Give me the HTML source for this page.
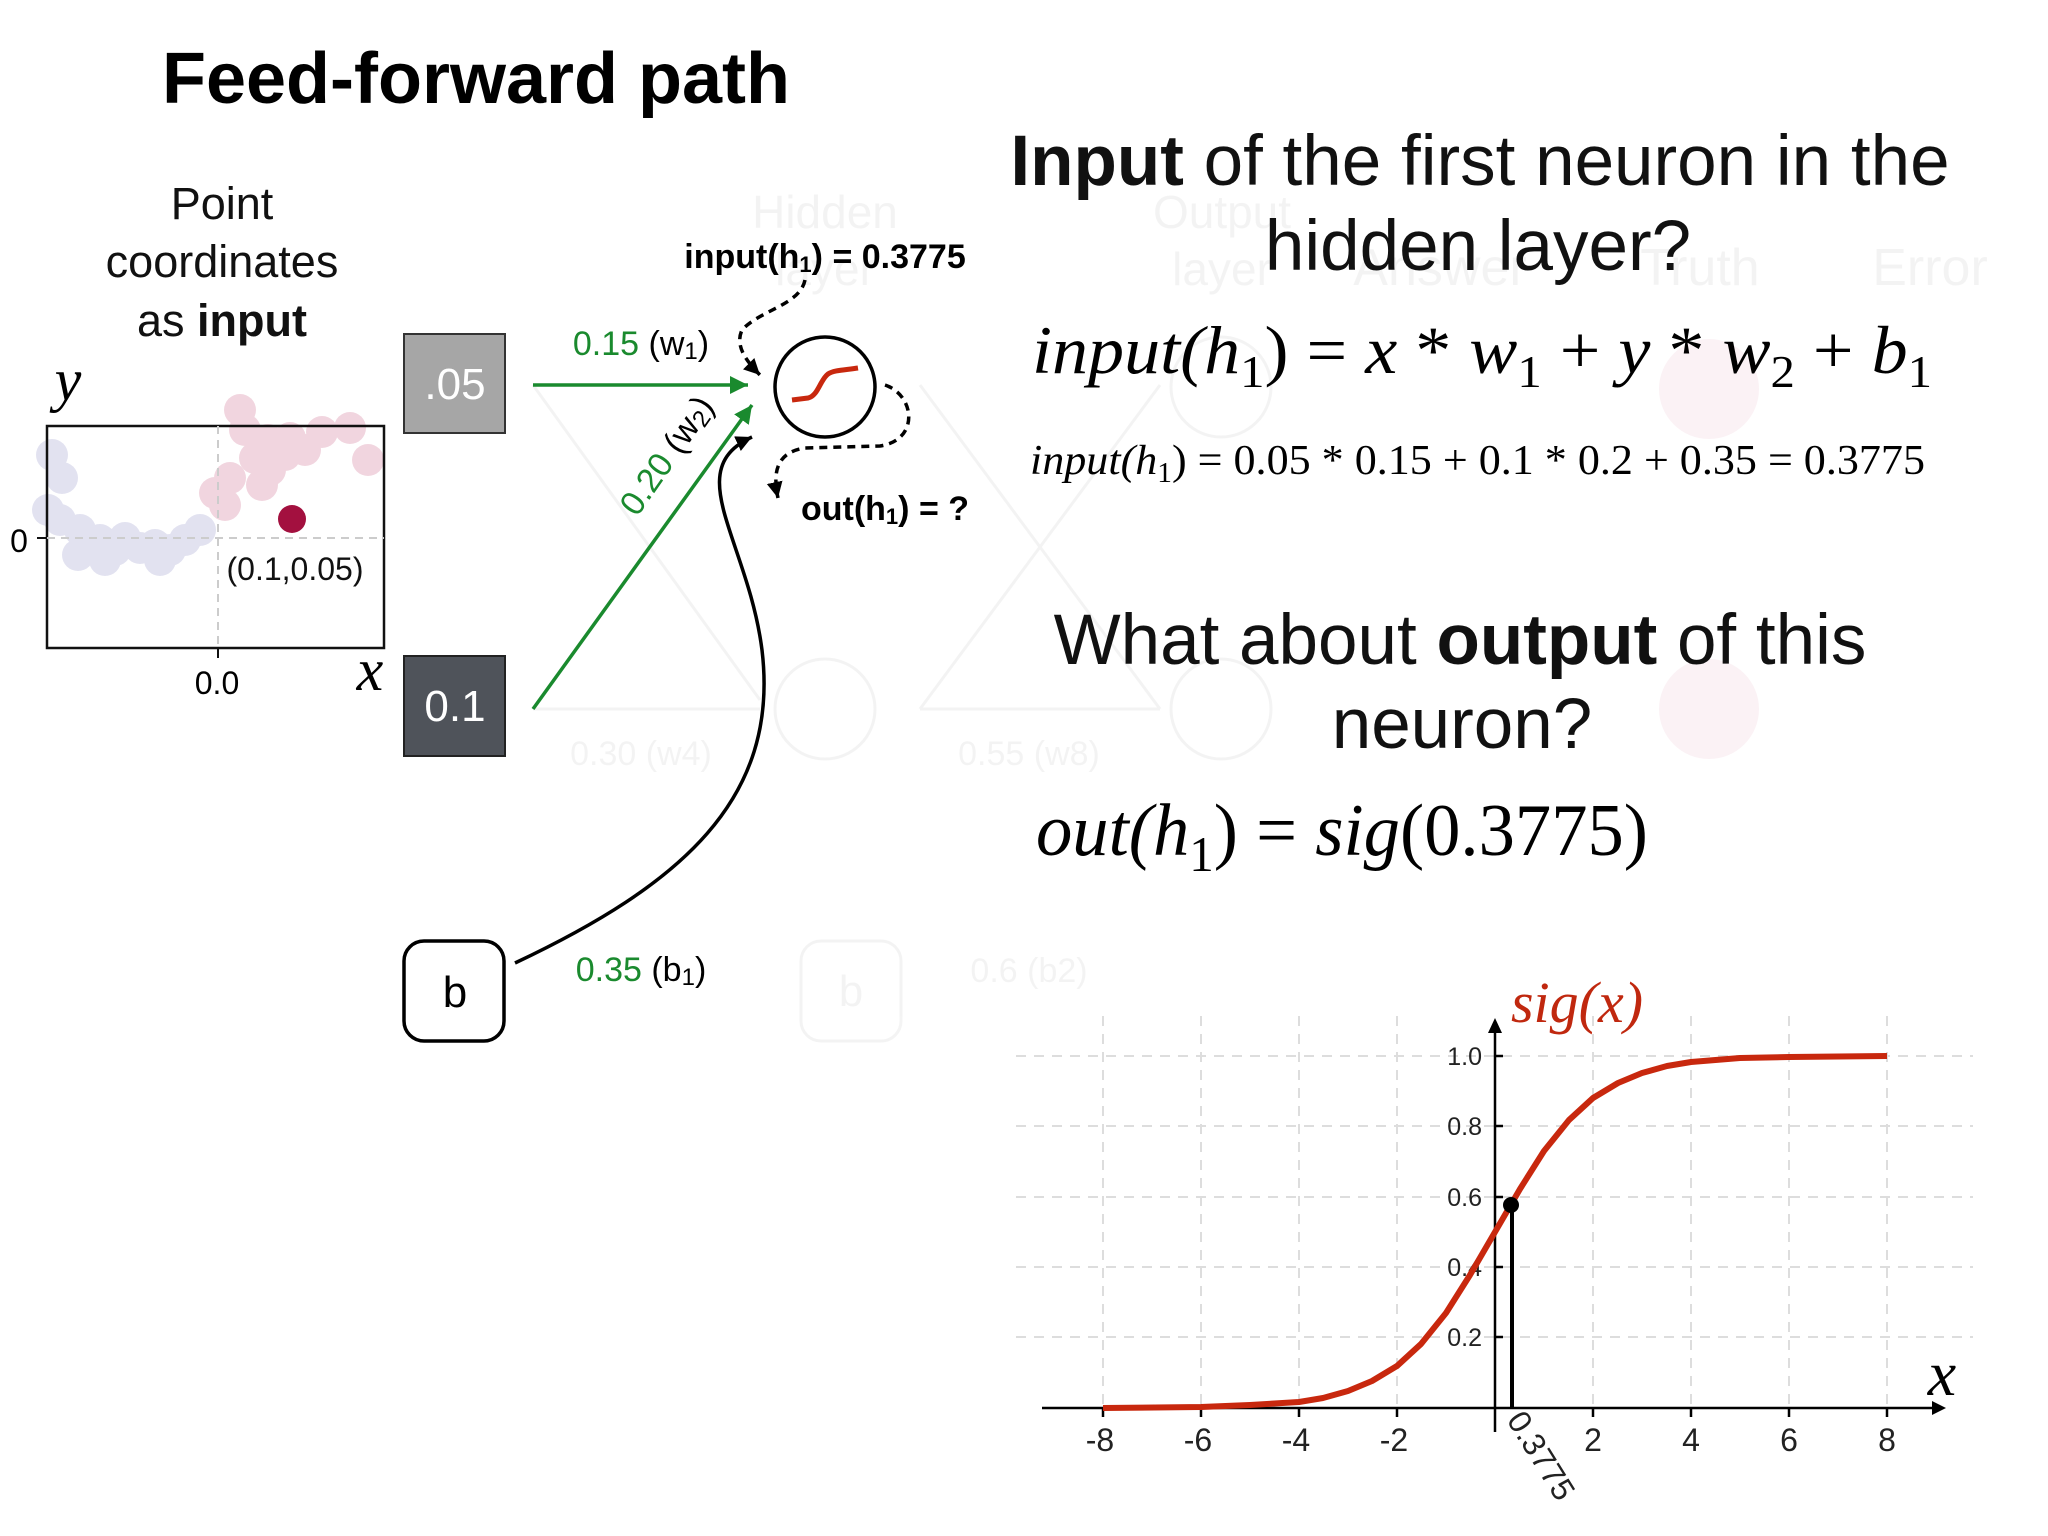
<!DOCTYPE html>
<html><head><meta charset="utf-8"><style>
html,body{margin:0;padding:0;background:#fff;width:2048px;height:1536px;overflow:hidden}
svg{display:block}
.s{font-family:"Liberation Sans",sans-serif}
.m{font-family:"Liberation Serif",serif;font-style:italic}
.n{font-family:"Liberation Serif",serif}
</style></head><body>
<svg width="2048" height="1536" viewBox="0 0 2048 1536" xmlns="http://www.w3.org/2000/svg">
<defs>
<marker id="ak" markerWidth="20" markerHeight="20" refX="16" refY="8" orient="auto" markerUnits="userSpaceOnUse"><path d="M0,0 L16,8 L0,16 z" fill="#000"/></marker>
<marker id="ag2" markerWidth="22" markerHeight="22" refX="18" refY="9" orient="auto" markerUnits="userSpaceOnUse"><path d="M0,0 L18,9 L0,18 z" fill="#1a8a2e"/></marker>
</defs>

<!-- faint background network -->
<g opacity="0.08" class="s" fill="#777" stroke="#777">
<text x="825" y="228" font-size="46" text-anchor="middle" stroke="none">Hidden</text>
<text x="825" y="285" font-size="46" text-anchor="middle" stroke="none">layer</text>
<text x="1222" y="228" font-size="46" text-anchor="middle" stroke="none">Output</text>
<text x="1222" y="285" font-size="46" text-anchor="middle" stroke="none">layer</text>
<text x="1440" y="285" font-size="52" text-anchor="middle" stroke="none">Answer</text>
<text x="1700" y="285" font-size="52" text-anchor="middle" stroke="none">Truth</text>
<text x="1930" y="285" font-size="52" text-anchor="middle" stroke="none">Error</text>
<circle cx="825" cy="709" r="50" fill="none" stroke-width="3"/>
<circle cx="1221" cy="709" r="50" fill="none" stroke-width="3"/>
<circle cx="1221" cy="387" r="50" fill="none" stroke-width="3"/>
<rect x="801" y="941" width="100" height="100" rx="20" fill="none" stroke-width="3"/>
<text x="851" y="1006" font-size="44" text-anchor="middle" stroke="none">b</text>
<text x="1029" y="982" font-size="34" text-anchor="middle" stroke="none">0.6 (b2)</text>
<line x1="533" y1="709" x2="760" y2="709" stroke-width="3"/>
<line x1="533" y1="385" x2="760" y2="700" stroke-width="3"/>
<line x1="920" y1="385" x2="1160" y2="709" stroke-width="3"/>
<line x1="920" y1="709" x2="1160" y2="385" stroke-width="3"/>
<line x1="920" y1="709" x2="1160" y2="709" stroke-width="3"/>
<text x="641" y="765" font-size="34" text-anchor="middle" stroke="none">0.30 (w4)</text>
<text x="1029" y="765" font-size="34" text-anchor="middle" stroke="none">0.55 (w8)</text>
</g>
<g opacity="0.06"><circle cx="1709" cy="389" r="50" fill="#c02050"/><circle cx="1709" cy="709" r="50" fill="#c02050"/></g>

<!-- Title -->
<text x="476" y="103" class="s" font-size="72" font-weight="bold" text-anchor="middle">Feed-forward path</text>
<g class="s" font-size="45" text-anchor="middle" fill="#111">
<text x="222" y="219">Point</text>
<text x="222" y="277">coordinates</text>
<text x="222" y="336">as <tspan font-weight="bold">input</tspan></text>
</g>

<!-- scatter plot -->
<g>
<g fill="#b8b8dc" opacity="0.4">
<circle cx="52" cy="455" r="16"/><circle cx="62" cy="478" r="16"/><circle cx="48" cy="510" r="16"/><circle cx="60" cy="520" r="16"/><circle cx="80" cy="530" r="16"/><circle cx="100" cy="540" r="16"/><circle cx="78" cy="555" r="16"/><circle cx="115" cy="550" r="16"/><circle cx="125" cy="538" r="16"/><circle cx="140" cy="548" r="16"/><circle cx="155" cy="545" r="16"/><circle cx="170" cy="550" r="16"/><circle cx="185" cy="540" r="16"/><circle cx="105" cy="560" r="16"/><circle cx="200" cy="530" r="16"/><circle cx="160" cy="560" r="16"/>
</g>
<g fill="#d98aa5" opacity="0.35">
<circle cx="215" cy="493" r="16"/><circle cx="225" cy="505" r="16"/><circle cx="230" cy="478" r="16"/><circle cx="255" cy="458" r="16"/><circle cx="270" cy="470" r="16"/><circle cx="268" cy="440" r="16"/><circle cx="290" cy="438" r="16"/><circle cx="245" cy="430" r="16"/><circle cx="240" cy="410" r="16"/><circle cx="305" cy="450" r="16"/><circle cx="322" cy="432" r="16"/><circle cx="350" cy="428" r="16"/><circle cx="368" cy="460" r="16"/><circle cx="262" cy="485" r="16"/><circle cx="285" cy="455" r="16"/>
</g>
<rect x="47" y="426" width="337" height="222" fill="none" stroke="#111" stroke-width="2.5"/>
<line x1="47" y1="538" x2="384" y2="538" stroke="#ccc" stroke-width="2" stroke-dasharray="8,6"/>
<line x1="218" y1="426" x2="218" y2="648" stroke="#ccc" stroke-width="2" stroke-dasharray="8,6"/>
<line x1="37" y1="538" x2="47" y2="538" stroke="#111" stroke-width="2"/>
<line x1="218" y1="648" x2="218" y2="658" stroke="#111" stroke-width="2"/>
<circle cx="292" cy="519" r="14" fill="#a3103f"/>
<text x="295" y="580" class="s" font-size="32" text-anchor="middle" fill="#111">(0.1,0.05)</text>
<text x="19" y="552" class="s" font-size="32" text-anchor="middle">0</text>
<text x="217" y="694" class="s" font-size="32" text-anchor="middle">0.0</text>
<text x="68" y="400" class="m" font-size="60" text-anchor="middle">y</text>
<text x="370" y="690" class="m" font-size="60" text-anchor="middle">x</text>
</g>

<!-- input boxes -->
<rect x="404" y="334" width="101" height="99" fill="#a6a6a6" stroke="#333" stroke-width="2"/>
<text x="455" y="399" class="s" font-size="44" fill="#fff" text-anchor="middle">.05</text>
<rect x="404" y="656" width="101" height="100" fill="#4f535a" stroke="#222" stroke-width="2"/>
<text x="455" y="721" class="s" font-size="44" fill="#fff" text-anchor="middle">0.1</text>
<rect x="404" y="941" width="100" height="100" rx="20" fill="#fff" stroke="#000" stroke-width="3.5"/>
<text x="455" y="1007" class="s" font-size="44" text-anchor="middle">b</text>

<!-- green connectors -->
<line x1="533" y1="385" x2="748" y2="385" stroke="#1a8a2e" stroke-width="3.5" marker-end="url(#ag2)"/>
<line x1="533" y1="709" x2="752" y2="405" stroke="#1a8a2e" stroke-width="3.5" marker-end="url(#ag2)"/>
<text x="641" y="355" class="s" font-size="34" text-anchor="middle"><tspan fill="#1a8a2e">0.15</tspan> (w<tspan font-size="24" dy="4">1</tspan><tspan dy="-4">)</tspan></text>
<text transform="translate(676,462) rotate(-55)" class="s" font-size="34" text-anchor="middle"><tspan fill="#1a8a2e">0.20</tspan> (w<tspan font-size="24" dy="4">2</tspan><tspan dy="-4">)</tspan></text>
<text x="641" y="981" class="s" font-size="34" text-anchor="middle"><tspan fill="#1a8a2e">0.35</tspan> (b<tspan font-size="24" dy="4">1</tspan><tspan dy="-4">)</tspan></text>

<!-- bias curve -->
<path d="M515,963 C680,885 780,800 762,650 C748,540 680,470 752,437" fill="none" stroke="#000" stroke-width="3.5" marker-end="url(#ak)"/>

<!-- neuron -->
<circle cx="825" cy="387" r="50" fill="#fff" stroke="#000" stroke-width="3.5"/>
<path d="M792,400 L808,398 C818,396 820,380 828,374 C834,370 845,370 858,368" fill="none" stroke="#c8280e" stroke-width="5"/>

<!-- dashed -->
<path d="M805,280 C800,305 760,310 742,330 C735,345 745,360 760,375" fill="none" stroke="#000" stroke-width="3.5" stroke-dasharray="8,6" marker-end="url(#ak)"/>
<path d="M885,385 C915,395 920,440 880,446 L805,448 C778,452 772,470 778,498" fill="none" stroke="#000" stroke-width="3.5" stroke-dasharray="8,6" marker-end="url(#ak)"/>
<text x="825" y="268" class="s" font-size="34" font-weight="bold" text-anchor="middle">input(h<tspan font-size="22" dy="4">1</tspan><tspan dy="-4">) = 0.3775</tspan></text>
<text x="885" y="520" class="s" font-size="34" font-weight="bold" text-anchor="middle">out(h<tspan font-size="22" dy="4">1</tspan><tspan dy="-4">) = ?</tspan></text>

<!-- right text -->
<g class="s" font-size="71" text-anchor="middle" fill="#111">
<text x="1480" y="185"><tspan font-weight="bold">Input</tspan> of the first neuron in the</text>
<text x="1478" y="270">hidden layer?</text>
<text x="1460" y="664">What about <tspan font-weight="bold">output</tspan> of this</text>
<text x="1462" y="748">neuron?</text>
</g>
<text x="1032" y="373" class="m" font-size="68" textLength="900" lengthAdjust="spacingAndGlyphs">input(h<tspan font-style="normal" font-size="46" dy="14">1</tspan><tspan dy="-14" font-style="normal">) = </tspan>x<tspan font-style="normal"> * </tspan>w<tspan font-style="normal" font-size="46" dy="14">1</tspan><tspan dy="-14" font-style="normal"> + </tspan>y<tspan font-style="normal"> * </tspan>w<tspan font-style="normal" font-size="46" dy="14">2</tspan><tspan dy="-14" font-style="normal"> + </tspan>b<tspan font-style="normal" font-size="46" dy="14">1</tspan></text>
<text x="1030" y="474" class="m" font-size="42" textLength="895" lengthAdjust="spacingAndGlyphs">input(h<tspan font-style="normal" font-size="28" dy="8">1</tspan><tspan dy="-8" font-style="normal">) = 0.05 * 0.15 + 0.1 * 0.2 + 0.35 = 0.3775</tspan></text>
<text x="1036" y="855" class="m" font-size="74" textLength="612" lengthAdjust="spacingAndGlyphs">out(h<tspan font-style="normal" font-size="50" dy="16">1</tspan><tspan dy="-16" font-style="normal">) = </tspan>sig<tspan font-style="normal">(0.3775)</tspan></text>

<!-- chart grid -->
<g stroke="#ddd" stroke-width="2" stroke-dasharray="10,8">
<line x1="1016" y1="1056" x2="1973" y2="1056"/><line x1="1016" y1="1126" x2="1973" y2="1126"/><line x1="1016" y1="1197" x2="1973" y2="1197"/><line x1="1016" y1="1267" x2="1973" y2="1267"/><line x1="1016" y1="1337" x2="1973" y2="1337"/>
<line x1="1103" y1="1016" x2="1103" y2="1408"/><line x1="1201" y1="1016" x2="1201" y2="1408"/><line x1="1299" y1="1016" x2="1299" y2="1408"/><line x1="1397" y1="1016" x2="1397" y2="1408"/><line x1="1593" y1="1016" x2="1593" y2="1408"/><line x1="1691" y1="1016" x2="1691" y2="1408"/><line x1="1789" y1="1016" x2="1789" y2="1408"/><line x1="1887" y1="1016" x2="1887" y2="1408"/>
</g>
<g stroke="#000" stroke-width="2.5">
<line x1="1042" y1="1408" x2="1936" y2="1408"/>
<line x1="1495" y1="1432" x2="1495" y2="1028"/>
<line x1="1103" y1="1408" x2="1103" y2="1417"/><line x1="1201" y1="1408" x2="1201" y2="1417"/><line x1="1299" y1="1408" x2="1299" y2="1417"/><line x1="1397" y1="1408" x2="1397" y2="1417"/><line x1="1593" y1="1408" x2="1593" y2="1417"/><line x1="1691" y1="1408" x2="1691" y2="1417"/><line x1="1789" y1="1408" x2="1789" y2="1417"/><line x1="1887" y1="1408" x2="1887" y2="1417"/>
<line x1="1495" y1="1056" x2="1503" y2="1056"/><line x1="1495" y1="1126" x2="1503" y2="1126"/><line x1="1495" y1="1197" x2="1503" y2="1197"/><line x1="1495" y1="1267" x2="1503" y2="1267"/><line x1="1495" y1="1337" x2="1503" y2="1337"/>
</g>
<path d="M1946,1408 L1932,1401 L1932,1415 z"/>
<path d="M1495,1018 L1488,1033 L1502,1033 z"/>
<g class="s" font-size="25" text-anchor="end" fill="#222">
<text x="1482" y="1065">1.0</text><text x="1482" y="1135">0.8</text><text x="1482" y="1206">0.6</text><text x="1482" y="1276">0.4</text><text x="1482" y="1346">0.2</text>
</g>
<g class="s" font-size="32" text-anchor="middle" fill="#222">
<text x="1100" y="1451">-8</text><text x="1198" y="1451">-6</text><text x="1296" y="1451">-4</text><text x="1394" y="1451">-2</text><text x="1593" y="1451">2</text><text x="1691" y="1451">4</text><text x="1789" y="1451">6</text><text x="1887" y="1451">8</text>
</g>
<text transform="translate(1506,1420) rotate(58)" class="s" font-size="32" fill="#222">0.3775</text>
<polyline points="1103,1408 1201,1407 1250,1405 1299,1402 1323,1398 1348,1391 1372,1381 1397,1366 1421,1344 1446,1313 1470,1275 1495,1232 1520,1189 1544,1151 1569,1120 1593,1098 1618,1083 1642,1073 1667,1066 1691,1062 1740,1058 1789,1057 1887,1056" fill="none" stroke="#c8280e" stroke-width="6" stroke-linejoin="round"/>
<line x1="1512" y1="1200" x2="1512" y2="1408" stroke="#000" stroke-width="4"/>
<circle cx="1511" cy="1205" r="8" fill="#000"/>
<text x="1577" y="1022" class="m" font-size="58" fill="#c0280f" text-anchor="middle">sig(x)</text>
<text x="1942" y="1395" class="m" font-size="64" text-anchor="middle">x</text>
</svg>
</body></html>
